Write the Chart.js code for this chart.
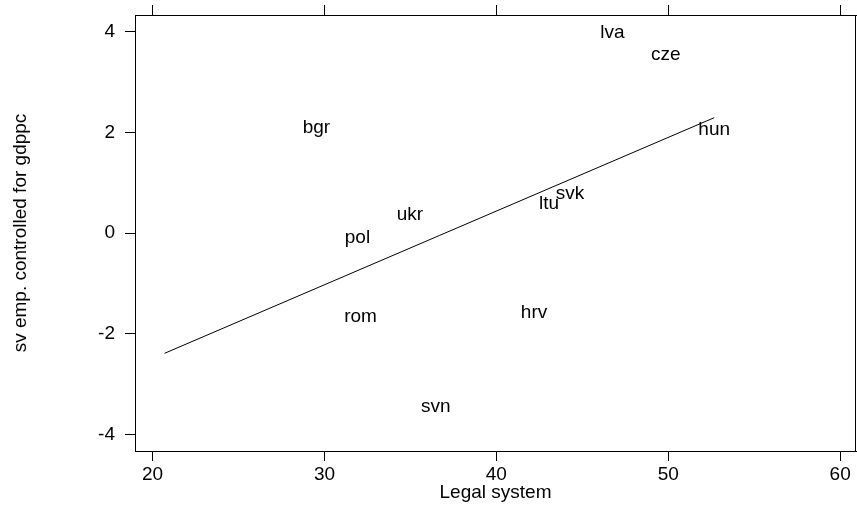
<!DOCTYPE html>
<html>
<head>
<meta charset="utf-8">
<title>sv emp. vs Legal system</title>
<script src="https://cdn.jsdelivr.net/npm/chart.js@4/dist/chart.umd.min.js"></script>
<style>
  html, body { margin: 0; padding: 0; background: #fff; }
  #wrap { width: 857px; height: 507px; }
</style>
</head>
<body>
<div id="wrap"><canvas id="chartLegal" width="857" height="507"></canvas></div>
<script>
(function () {
  'use strict';

  // country codes and their coordinates
  var paises = ['lva', 'cze', 'hun', 'bgr', 'svk', 'ltu', 'ukr', 'pol', 'rom', 'hrv', 'svn'];
  var legal = [46.75, 49.86, 52.67, 29.53, 44.29, 43.06, 34.97, 31.92, 32.10, 42.19, 36.48];
  var svEmp = [3.97, 3.54, 2.05, 2.09, 0.78, 0.59, 0.37, -0.10, -1.66, -1.58, -3.46];

  // fitted line ends
  var fitX = [20.7, 52.67];
  var fitY = [-2.39, 2.29];

  var xTicks = [20, 30, 40, 50, 60];
  var yTicks = [-4, -2, 0, 2, 4];

  var FONTE = 'Liberation Sans, Arial, Helvetica, sans-serif';

  function pares(xs, ys) {
    return xs.map(function (v, i) { return { x: v, y: ys[i] }; });
  }

  function fixTicks(valores) {
    return function (scale) {
      scale.ticks = valores.map(function (v) { return { value: v }; });
    };
  }

  // draws each country code centred on its point
  var rotulos = {
    id: 'rotulos',
    afterDatasetsDraw: function (chart) {
      var ctx = chart.ctx;
      var meta = chart.getDatasetMeta(0);
      ctx.save();
      ctx.font = '19px ' + FONTE;
      ctx.fillStyle = '#000';
      ctx.textAlign = 'center';
      ctx.textBaseline = 'middle';
      meta.data.forEach(function (pt, i) {
        ctx.fillText(paises[i], pt.x, pt.y);
      });
      ctx.restore();
    }
  };

  // plot frame
  var moldura = {
    id: 'moldura',
    afterDraw: function (chart) {
      var a = chart.chartArea;
      var ctx = chart.ctx;
      ctx.save();
      ctx.strokeStyle = '#000';
      ctx.lineWidth = 1;
      ctx.strokeRect(Math.round(a.left) + 0.5, Math.round(a.top) + 0.5,
        Math.round(a.right - a.left) - 1, Math.round(a.bottom - a.top));
      ctx.restore();
    }
  };

  var gridEixo = {
    display: true,
    drawOnChartArea: false,
    drawTicks: true,
    tickLength: 10,
    color: '#000',
    lineWidth: 1
  };

  function init() {
    var el = document.getElementById('chartLegal');
    if (!el || !window.Chart) return;

    new Chart(el, {
      type: 'scatter',
      data: {
        datasets: [{
          label: 'paises',
          data: pares(legal, svEmp),
          pointRadius: 0,
          pointHoverRadius: 0
        }, {
          label: 'fit',
          data: pares(fitX, fitY),
          showLine: true,
          borderColor: '#000',
          borderWidth: 1,
          pointRadius: 0,
          fill: false
        }]
      },
      options: {
        responsive: false,
        animation: false,
        layout: { padding: { left: 0, right: 1, top: 0, bottom: 0 } },
        plugins: { legend: { display: false }, tooltip: { enabled: false } },
        scales: {
          x: {
            type: 'linear',
            position: 'bottom',
            min: 18.98,
            max: 60.92,
            afterBuildTicks: fixTicks(xTicks),
            afterFit: function (s) { s.height = 56; s.paddingLeft = 0; s.paddingRight = 0; },
            grid: gridEixo,
            border: { display: true, color: '#000' },
            ticks: { color: '#000', padding: 2, maxRotation: 0, font: { size: 19, family: FONTE } },
            title: {
              display: true,
              text: 'Legal system',
              color: '#000',
              padding: { top: 0, bottom: 3 },
              font: { size: 19, family: FONTE }
            }
          },
          xTopo: {
            type: 'linear',
            position: 'top',
            min: 18.98,
            max: 60.92,
            afterBuildTicks: fixTicks(xTicks),
            afterFit: function (s) { s.height = 15; s.paddingLeft = 0; s.paddingRight = 0; },
            grid: gridEixo,
            border: { display: true, color: '#000' },
            ticks: { display: false }
          },
          y: {
            type: 'linear',
            position: 'left',
            min: -4.33,
            max: 4.33,
            afterBuildTicks: fixTicks(yTicks),
            // labels sit well inside the range, no extra room needed above/below
            afterFit: function (s) { s.width = 135; s.paddingTop = 0; s.paddingBottom = 0; },
            grid: gridEixo,
            border: { display: true, color: '#000' },
            ticks: { color: '#000', padding: 10, font: { size: 19, family: FONTE } },
            title: {
              display: true,
              text: 'sv emp. controlled for gdppc',
              color: '#000',
              padding: { top: 9, bottom: 0 },
              font: { size: 19, family: FONTE }
            }
          }
        }
      },
      plugins: [rotulos, moldura]
    });
  }

  if (document.readyState === 'loading') {
    document.addEventListener('DOMContentLoaded', init);
  } else {
    init();
  }
})();
</script>
</body>
</html>
